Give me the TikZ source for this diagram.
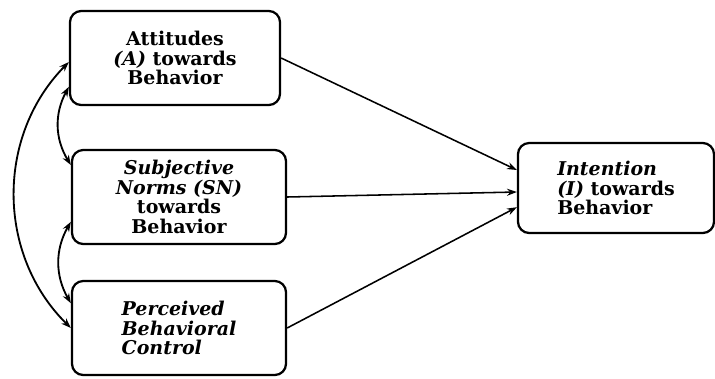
\documentclass[tikz,border=0pt]{standalone}
\usepackage{fontspec}
\setmainfont{DejaVu Serif}
\usepackage{tikz}
\usetikzlibrary{arrows.meta, positioning}

\begin{document}
\begin{tikzpicture}[x=0.025cm, y=-0.025cm,
    factor/.style={draw, line width=1.6pt, rounded corners=8pt, fill=white,
      minimum width=5.35cm, minimum height=2.35cm,
      font=\bfseries\fontsize{13.5}{13.8}\selectfont,
      align=center, inner sep=2pt},
    arrow/.style={-{Stealth[length=7pt,width=5pt]}, line width=1.1pt},
    corr/.style={{Stealth[length=7pt,width=5pt]}-{Stealth[length=7pt,width=5pt]}, line width=1.3pt}
  ]
  \useasboundingbox (0,0) rectangle (715,378);

  % Predictors (left column)
  \node[factor, minimum width=5.25cm] (att) at (175,58) {Attitudes\\ \textit{(A)} towards\\ Behavior};
  \node[factor] (sn) at (179,197) {\textit{Subjective}\\ \textit{Norms (SN)}\\ towards\\ Behavior};
  \node[factor, align=left] (pbc) at (179,328) {\textit{Perceived}\\ \textit{Behavioral}\\ \textit{Control}};

  % Outcome (right)
  \node[factor, align=left, minimum width=4.9cm, minimum height=2.25cm] (int) at (616,188)
    {\textit{Intention}\\ \textit{(I)} towards\\ Behavior};

  % Paths to intention
  \draw[arrow] (att.east) -- ([yshift=0.45cm]int.west);
  \draw[arrow] (sn.east) -- ([yshift=-0.1cm]int.west);
  \draw[arrow] (pbc.east) -- ([yshift=-0.48cm]int.west);

  % Correlations
  \draw[corr] ([yshift=-0.1cm]att.west) to[bend right=45] (pbc.west);
  \draw[corr] ([yshift=-0.72cm]att.west) to[bend right=30] ([yshift=0.8cm]sn.west);
  \draw[corr] ([yshift=-0.62cm]sn.west) to[bend right=30] ([yshift=0.62cm]pbc.west);
\end{tikzpicture}
\end{document}
